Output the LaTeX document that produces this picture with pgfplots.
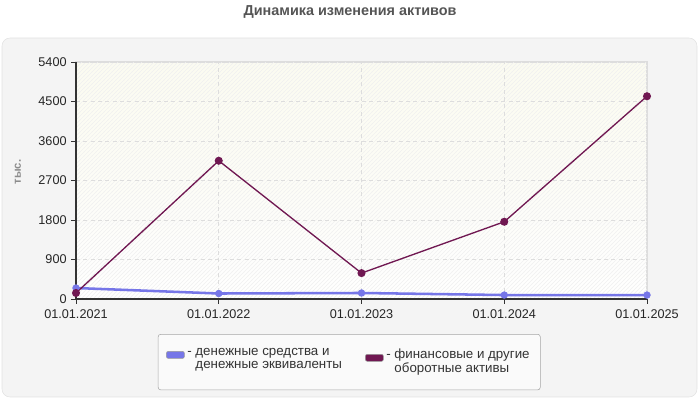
\documentclass[border=0pt]{standalone}
\usepackage{fontspec}
\setmainfont{Liberation Sans}
\usepackage{pgfplots}
\pgfplotsset{compat=1.18}
\usetikzlibrary{patterns}

\definecolor{panelbg}{HTML}{F4F4F4}
\definecolor{panelbd}{HTML}{E2E2E2}
\definecolor{plotbg}{HTML}{FBFBF1}
\definecolor{gridc}{HTML}{DDDDDD}
\definecolor{axisc}{HTML}{333333}
\definecolor{cashc}{RGB}{118,118,232}
\definecolor{finc}{RGB}{112,24,82}
\definecolor{titlec}{HTML}{555555}

\begin{document}
\begin{tikzpicture}
% canvas 700x400 px = 525x300 pt
\path[use as bounding box] (0,0) rectangle (525pt,300pt);
\draw[panelbd, fill=panelbg, rounded corners=6pt] (1.5pt,2.25pt) rectangle (522.75pt,271.5pt);

\begin{axis}[
    at={(57pt,75.75pt)}, anchor=south west,
    scale only axis,
    width=428.25pt, height=177.75pt,
    xmin=0, xmax=4,
    ymin=0, ymax=5400,
    xtick={0,1,2,3,4},
    xticklabels={01.01.2021,01.01.2022,01.01.2023,01.01.2024,01.01.2025},
    ytick={0,900,1800,2700,3600,4500,5400},
    axis lines=left,
    axis line style={-, axisc, line width=0.8pt},
    tick style={axisc, line width=0.6pt},
    tick align=outside,
    major tick length=3.5pt,
    grid=major,
    major grid style={gridc, dash pattern=on 3pt off 2.5pt, line width=0.6pt},
    axis background/.style={top color=plotbg, bottom color=white, middle color=plotbg!60!white,
        draw=gridc, line width=0.8pt,
        postaction={pattern=north east lines, pattern color=black!6}},
    /pgf/number format/assume math mode=true,
    /pgf/number format/1000 sep={},
    ticklabel style={font=\fontsize{9.5}{11}\selectfont, color=black!85},
    xticklabel style={yshift=-1pt},
    title={Динамика изменения активов},
    title style={at={(axis description cs:0.48,1.177)}, anchor=center,
        font=\fontsize{10.8}{12}\selectfont\bfseries, color=titlec},
    ylabel={тыс.},
    ylabel style={at={(axis description cs:-0.1016,0.536)}, anchor=center,
        font=\fontsize{8.5}{10}\selectfont\bfseries, color=black!45},
    legend columns=2,
    legend style={at={(axis description cs:0.4785,-0.1477)}, anchor=north,
        draw=black!35, fill=black!2, rounded corners=2pt,
        font=\fontsize{10}{10.3}\selectfont, text=black!80,
        cells={anchor=base west},
        inner xsep=6pt, inner ysep=6.5pt,
        /tikz/every even column/.append style={column sep=15pt}},
    clip=false,
]
\addplot[cashc, line width=1.9pt, mark=*, mark size=2.5pt,
    mark options={fill=cashc, draw=cashc, line width=0.5pt},
    legend image code/.code={%
        \draw[fill=cashc, draw=black!40, line width=0.4pt, rounded corners=1.5pt]
            (0pt,-2.4pt) rectangle (13.5pt,2.9pt);}] coordinates {
    (0,250) (1,125) (2,137) (3,90) (4,90)
};
\addlegendentry{- \begin{tabular}[t]{@{}l@{}}денежные средства и\\денежные эквиваленты\end{tabular}}
\addplot[finc, line width=1pt, mark=*, mark size=2.5pt,
    mark options={fill=finc, draw=finc},
    legend image code/.code={%
        \draw[fill=finc, draw=black!40, line width=0.4pt, rounded corners=1.5pt]
            (0pt,-4.6pt) rectangle (13.5pt,0.7pt);
        \path (0pt,-19pt);}] coordinates {
    (0,137) (1,3150) (2,590) (3,1760) (4,4620)
};
\addlegendentry{\raisebox{-2.4pt}{- \begin{tabular}[t]{@{}l@{}}финансовые и другие\\оборотные активы\end{tabular}}}
\end{axis}
\end{tikzpicture}
\end{document}
